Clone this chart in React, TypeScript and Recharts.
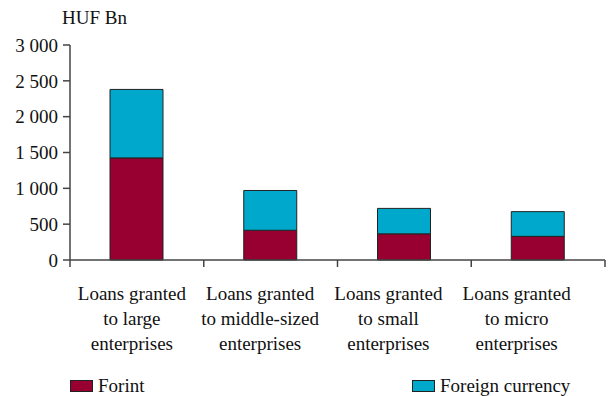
import { BarChart, Bar, XAxis, YAxis } from "recharts";

const categories = [
  ["Loans granted", "to large", "enterprises"],
  ["Loans granted", "to middle-sized", "enterprises"],
  ["Loans granted", "to small", "enterprises"],
  ["Loans granted", "to micro", "enterprises"],
];
const forint = [1425, 415, 365, 330];
const foreign = [955, 555, 355, 345];
const yTicks = [0, 500, 1000, 1500, 2000, 2500, 3000];

const FONT = "Liberation Serif";
const SIZE = 19;
const RED = "#970030";
const BLUE = "#00A9CC";

const data = categories.map((c, i) => ({
  name: String(i),
  Forint: forint[i],
  Foreign: foreign[i],
}));

// 3000 -> "3 000"
const fmt = (v: number) => String(v).replace(/\B(?=(\d{3})+(?!\d))/g, " ");

// category label in three lines, plus tick marks on the category borders
function CatTick(props: any) {
  const { x, y, payload, index } = props;
  const lines = categories[Number(payload.value)];
  const band = 535 / 4;
  const shift = -5 - index * 5.5;
  return (
    <g>
      <line x1={x + band / 2} y1={y - 8} x2={x + band / 2} y2={y - 1} stroke="#444" strokeWidth={1.5} />
      {index === 0 && (
        <line x1={x - band / 2} y1={y - 8} x2={x - band / 2} y2={y - 1} stroke="#444" strokeWidth={1.5} />
      )}
      {lines.map((l, k) => (
        <text key={k} x={x + shift} y={y + 32 + k * 25} textAnchor="middle" fill="#111" fontFamily={FONT} fontSize={SIZE}>
          {l}
        </text>
      ))}
    </g>
  );
}

export default function App() {
  return (
    <div style={{ position: "absolute", left: 0, top: 0, width: 611, height: 396, background: "#fff", fontFamily: FONT, fontSize: SIZE, color: "#111" }}>
      <div style={{ position: "absolute", left: 62, top: 7 }}>HUF Bn</div>
      <BarChart width={611} height={396} data={data} margin={{ top: 45, right: 6, left: 0, bottom: 0 }}>
        <YAxis
          width={70}
          domain={[0, 3000]}
          ticks={yTicks}
          tickFormatter={fmt}
          tick={{ fill: "#111", fontSize: SIZE, fontFamily: FONT }}
          axisLine={{ stroke: "#444", strokeWidth: 1.5 }}
          tickLine={{ stroke: "#444", strokeWidth: 1.5 }}
          tickSize={7}
          tickMargin={5}
        />
        <XAxis
          dataKey="name"
          height={136}
          tick={<CatTick />}
          tickLine={false}
          axisLine={{ stroke: "#444", strokeWidth: 1.5 }}
          interval={0}
        />
        <Bar dataKey="Forint" stackId="a" fill={RED} stroke="#222" strokeWidth={1} barSize={53} isAnimationActive={false} />
        <Bar dataKey="Foreign" stackId="a" fill={BLUE} stroke="#222" strokeWidth={1} barSize={53} isAnimationActive={false} />
      </BarChart>
      <div style={{ position: "absolute", left: 70, top: 375, display: "flex", alignItems: "center" }}>
        <span style={{ display: "inline-block", width: 21, height: 10, background: RED, border: "1px solid #222", marginRight: 5 }} />
        Forint
      </div>
      <div style={{ position: "absolute", left: 412, top: 375, display: "flex", alignItems: "center" }}>
        <span style={{ display: "inline-block", width: 21, height: 10, background: BLUE, border: "1px solid #222", marginRight: 5 }} />
        Foreign currency
      </div>
    </div>
  );
}
